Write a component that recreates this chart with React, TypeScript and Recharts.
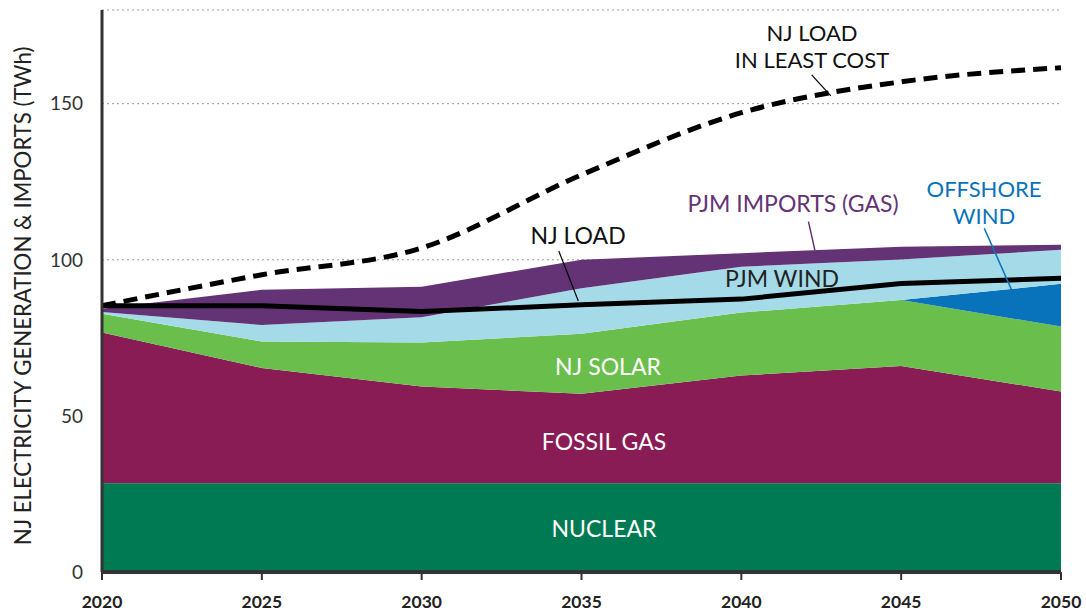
import React from 'react';
import {
  ComposedChart, Area, Line, XAxis, YAxis, CartesianGrid, ReferenceLine,
} from 'recharts';

const years = [2020, 2025, 2030, 2035, 2040, 2045, 2050];
const nuclear = [28.5, 28.5, 28.5, 28.5, 28.5, 28.5, 28.5];
const fossilGas = [48.2, 36.8, 30.9, 28.6, 34.4, 37.5, 29.3];
const njSolar = [6.0, 8.5, 14.1, 19.2, 20.2, 21.1, 20.8];
const offshoreWind = [0, 0, 0, 0, 0, 0, 13.7];
const pjmWind = [0.6, 5.3, 8.1, 14.6, 14.7, 13.0, 10.9];
const pjmImports = [1.0, 11.3, 9.8, 9.1, 4.3, 4.1, 1.6];
const njLoad = [85.3, 85.3, 83.4, 85.6, 87.4, 92.4, 94.1];
const njLoadLeastCost = [85.3, 95.2, 103.8, 127.2, 147.1, 157.0, 161.5];

const xTicks = [2020, 2025, 2030, 2035, 2040, 2045, 2050];
const yTicks = [0, 50, 100, 150];

const data = years.map((year, i) => ({
  year,
  nuclear: nuclear[i],
  fossilGas: fossilGas[i],
  njSolar: njSolar[i],
  offshoreWind: offshoreWind[i],
  pjmWind: pjmWind[i],
  pjmImports: pjmImports[i],
  njLoad: njLoad[i],
  njLoadLeastCost: njLoadLeastCost[i],
}));

const FONT = 'Lato, "Open Sans", sans-serif';

const labelStyle: React.CSSProperties = { fontFamily: FONT, fontSize: 23 };
const twoLineStyle: React.CSSProperties = { fontFamily: FONT, fontSize: 22 };

export default function App() {
  return (
    <div style={{ position: 'absolute', left: 0, top: 0, width: 1086, height: 614, background: '#fff' }}>
      <ComposedChart
        width={1086}
        height={614}
        data={data}
        margin={{ top: 10, right: 25, bottom: 0, left: 0 }}
      >
        <CartesianGrid
          vertical={false}
          stroke="#9a9a9a"
          strokeDasharray="2 3"
        />
        <XAxis
          dataKey="year"
          type="number"
          domain={[2020, 2050]}
          ticks={xTicks}
          height={42}
          stroke="#333"
          strokeWidth={4}
          tickSize={8}
          tickMargin={16}
          tick={{ fill: '#222', fontSize: 17.5, fontWeight: 700, fontFamily: FONT }}
          tickLine={{ stroke: '#333', strokeWidth: 2 }}
        />
        <YAxis
          type="number"
          domain={[0, 180]}
          ticks={yTicks}
          width={102}
          stroke="#333"
          strokeWidth={3}
          tickLine={false}
          tickMargin={13}
          tick={{ fill: '#333', fontSize: 19, fontFamily: FONT }}
        />
        <Area type="linear" dataKey="nuclear" stackId="s" stroke="#6f8f86" strokeWidth={1} fill="#007A53" fillOpacity={1} isAnimationActive={false} />
        <Area type="linear" dataKey="fossilGas" stackId="s" stroke="none" fill="#8A1C55" fillOpacity={1} isAnimationActive={false} />
        <Area type="linear" dataKey="njSolar" stackId="s" stroke="none" fill="#6ABE4B" fillOpacity={1} isAnimationActive={false} />
        <Area type="linear" dataKey="offshoreWind" stackId="s" stroke="none" fill="#0873BB" fillOpacity={1} isAnimationActive={false} />
        <Area type="linear" dataKey="pjmWind" stackId="s" stroke="none" fill="#A5DAE8" fillOpacity={1} isAnimationActive={false} />
        <Area type="linear" dataKey="pjmImports" stackId="s" stroke="none" fill="#643376" fillOpacity={1} isAnimationActive={false} />
        <Line type="linear" dataKey="njLoad" stroke="#000" strokeWidth={5} dot={false} isAnimationActive={false} />
        <Line type="monotone" dataKey="njLoadLeastCost" stroke="#000" strokeWidth={5} strokeDasharray="14 8" dot={false} isAnimationActive={false} />
        <ReferenceLine segment={[{ x: 2034.29, y: 102.8 }, { x: 2034.9, y: 86.8 }]} stroke="#000" strokeWidth={1.2} ifOverflow="visible" />
        <ReferenceLine segment={[{ x: 2042.1, y: 112.2 }, { x: 2042.3, y: 103.1 }]} stroke="#643376" strokeWidth={1.5} ifOverflow="visible" />
        <ReferenceLine segment={[{ x: 2047.6, y: 110.1 }, { x: 2048.45, y: 90.5 }]} stroke="#0873BB" strokeWidth={1.5} ifOverflow="visible" />
        <ReferenceLine segment={[{ x: 2042.2, y: 159.2 }, { x: 2042.8, y: 152.5 }]} stroke="#000" strokeWidth={1.2} ifOverflow="visible" />
      </ComposedChart>
      <svg width={1086} height={614} style={{ position: 'absolute', left: 0, top: 0, pointerEvents: 'none' }}>
        <text x={22} y={296} transform="rotate(-90 22 296)" textAnchor="middle" dominantBaseline="central" fill="#222" style={{ fontFamily: FONT, fontSize: 22.2 }}>
          NJ ELECTRICITY GENERATION &amp; IMPORTS (TWh)
        </text>
        <g textAnchor="middle" dominantBaseline="central" style={twoLineStyle}>
          <text x={812} y={32} fill="#111">NJ LOAD</text>
          <text x={812} y={59} fill="#111">IN LEAST COST</text>
          <text x={984} y={188} fill="#0873BB">OFFSHORE</text>
          <text x={984} y={215} fill="#0873BB">WIND</text>
        </g>
        <g textAnchor="middle" dominantBaseline="central" style={labelStyle}>
          <text x={793} y={203} fill="#643376">PJM IMPORTS (GAS)</text>
          <text x={578} y={235} fill="#111">NJ LOAD</text>
          <text x={782} y={278} fill="#222">PJM WIND</text>
          <text x={608} y={366} fill="#fff">NJ SOLAR</text>
          <text x={604} y={441} fill="#fff">FOSSIL GAS</text>
          <text x={604} y={528} fill="#fff">NUCLEAR</text>
        </g>
      </svg>
    </div>
  );
}
